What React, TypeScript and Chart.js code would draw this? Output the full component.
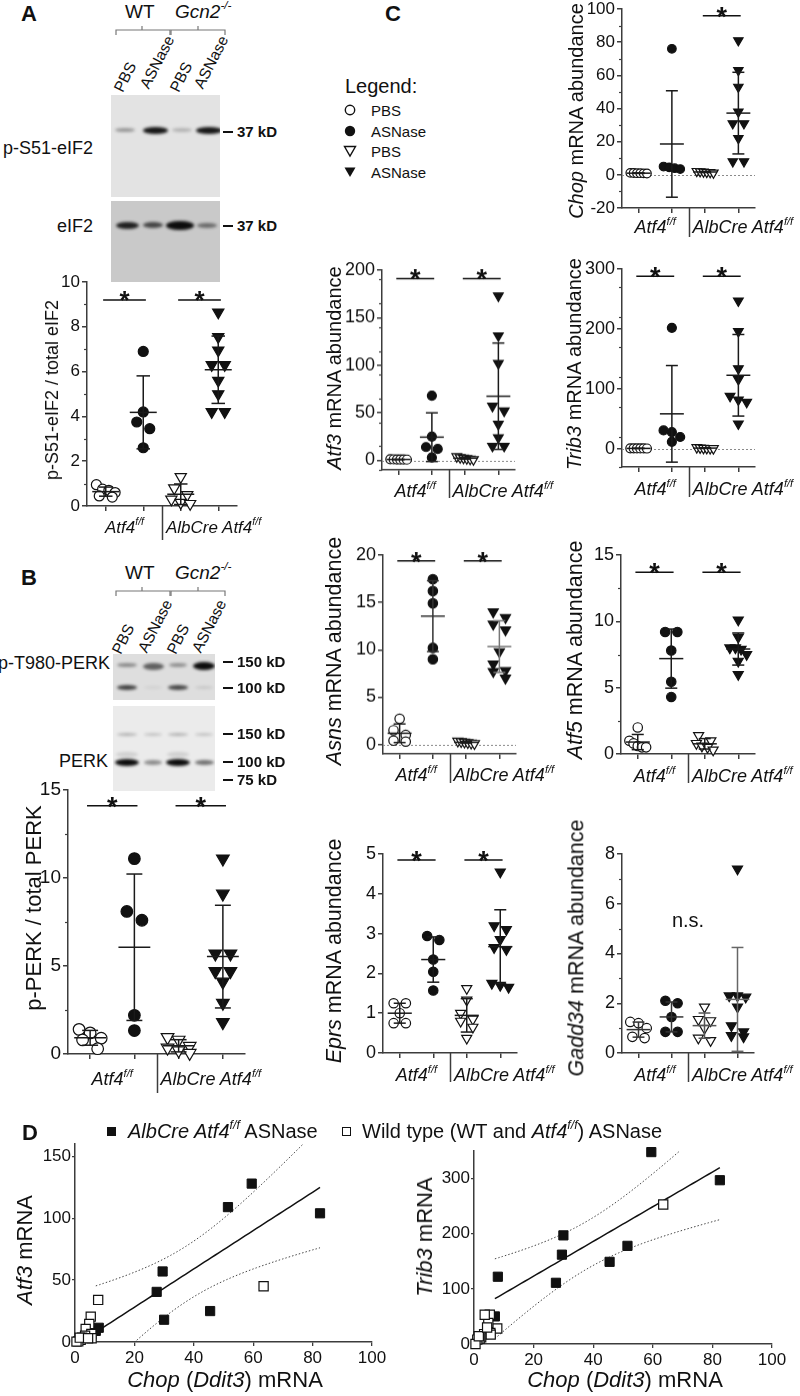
import React, { useEffect, useRef } from 'react';
import { Chart, registerables } from 'chart.js';

Chart.register(...registerables);

const FONT = '"Liberation Sans", Arial, Helvetica, sans-serif';
Chart.defaults.font.family = FONT;

const AX = '#3c3c3c';
const INK = '#111111';

/* ===================== DATA ===================== */
// every dot plot has 4 groups: Atf4 f/f PBS, Atf4 f/f ASNase, AlbCre Atf4 f/f PBS, AlbCre Atf4 f/f ASNase
const treatments = ['PBS', 'ASNase', 'PBS', 'ASNase'];

// A: p-S51-eIF2 / total eIF2
const eif2PbsFlox = [0.95, 0.75, 0.7, 0.6, 0.45, 0.4];
const eif2AsnFlox = [6.9, 4.2, 3.75, 3.45, 2.6];
const eif2PbsAlb = [1.3, 0.8, 0.5, 0.3, 0.15, 0.1];
const eif2AsnAlb = [8.65, 7.55, 6.95, 6.3, 6.3, 5.6, 5.0, 4.2, 4.2];

// B: p-PERK / total PERK
const perkPbsFlox = [1.4, 1.2, 0.9, 0.8, 0.3];
const perkAsnFlox = [11.1, 8.1, 7.6, 2.2, 1.33];
const perkPbsAlb = [0.95, 0.8, 0.45, 0.35, 0.2, 0.05];
const perkAsnAlb = [11.1, 9.1, 5.7, 5.7, 4.7, 4.7, 4.1, 2.9, 1.8];

// C: mRNA abundance
const chopPbsFlox = [1.2, 1.1, 1.0, 1.0, 0.9, 0.8];
const chopAsnFlox = [76, 5, 4.5, 4, 3.5];
const chopPbsAlb = [2.2, 2.0, 1.8, 1.6, 1.5, 1.2];
const chopAsnAlb = [81, 63, 53, 38, 31, 31, 22, 8, 8];

const atf3PbsFlox = [1.3, 1.1, 1.0, 0.9, 0.9, 0.8];
const atf3AsnFlox = [68, 25, 14, 12, 3];
const atf3PbsAlb = [4, 3, 2.5, 2, 1.5, 1];
const atf3AsnAlb = [173, 131, 102, 57, 52, 38, 24, 15, 15];

const trib3PbsFlox = [1.2, 1.1, 1.0, 1.0, 0.9, 0.8];
const trib3AsnFlox = [202, 31, 28, 20, 12];
const trib3PbsAlb = [2.5, 2, 1.5, 1.2, 1, 0.8];
const trib3AsnAlb = [247, 196, 134, 116, 88, 82, 78, 42];

const asnsPbsFlox = [2.7, 1.5, 1.0, 0.4, 0.3];
const asnsAsnFlox = [17.45, 16.2, 14.9, 10.2, 9.0];
const asnsPbsAlb = [0.35, 0.3, 0.25, 0.2, 0.15, 0.1];
const asnsAsnAlb = [14.0, 13.4, 12.7, 12.1, 9.8, 8.5, 7.8, 7.7, 7.0];

const atf5PbsFlox = [2.0, 1.0, 0.8, 0.6, 0.5, 0.5];
const atf5AsnFlox = [9.2, 9.2, 7.8, 5.45, 4.3];
const atf5PbsAlb = [1.4, 1.0, 0.8, 0.6, 0.5, 0.3];
const atf5AsnAlb = [10.1, 8.8, 8.0, 8.0, 7.9, 7.5, 7.0, 6.0];

const eprsPbsFlox = [1.25, 1.25, 1.0, 0.75, 0.75];
const eprsAsnFlox = [2.94, 2.84, 2.35, 2.04, 1.57];
const eprsPbsAlb = [1.62, 1.33, 1.0, 0.85, 0.8, 0.65, 0.37];
const eprsAsnAlb = [4.55, 3.2, 3.1, 2.85, 2.65, 2.6, 1.75, 1.7, 1.65];

const gaddPbsFlox = [1.25, 1.2, 1.0, 0.65, 0.6];
const gaddAsnFlox = [2.1, 2.0, 1.45, 0.85, 0.85];
const gaddPbsAlb = [1.85, 1.35, 1.3, 1.0, 0.6, 0.5];
const gaddAsnAlb = [7.4, 2.3, 2.3, 2.25, 1.85, 1.1, 0.85, 0.7, 0.65];

// D: correlations (ASNase treated)
const chopAlbAsn = [59.5, 51.5, 82.5, 29.5, 27.5, 45.5, 30, 8, 7];
const atf3AlbAsn = [128, 109, 104, 57, 40.5, 25, 18, 11.5, 9];
const trib3AlbAsn = [348, 178, 297, 162, 111, 149, 197, 122, 50];
const chopWtAsn = [63.5, 7.8, 5.3, 4.8, 3.6, 5.5, 3.4, 5.6, 2.4, 1.9, 1.1, 0.5, 1.6, 4.4];
const atf3WtAsn = [45, 34, 20.5, 14.5, 10.5, 6.5, 5, 3, 3.5, 1.7, 0.5, 0.3, 3.5, 3];
const trib3WtAsn = [253, 28, 53, 38, 53, 20, 18, 17, 12, 10, 8, 0, 14, 30];

const dTicksX = [0, 20, 40, 60, 80, 100];
const dTicksAtf3 = [0, 50, 100, 150];
const dTicksTrib3 = [0, 100, 200, 300];

/* ===================== helpers ===================== */
const mean = (a: number[]) => a.reduce((s, v) => s + v, 0) / a.length;
const sdev = (a: number[]) => {
  const m = mean(a);
  return Math.sqrt(a.reduce((s, v) => s + (v - m) ** 2, 0) / (a.length - 1));
};

function swarm(vals: number[], pxPerY: number, diam: number, unitPx: number): number[] {
  const idx = vals.map((_, i) => i).sort((a, b) => vals[b] - vals[a]);
  const offs = new Array(vals.length).fill(0);
  let i = 0;
  while (i < idx.length) {
    const row = [idx[i]];
    let j = i + 1;
    while (j < idx.length && (vals[idx[i]] - vals[idx[j]]) * pxPerY < diam * 0.8) {
      row.push(idx[j]);
      j++;
    }
    const n = row.length;
    if (n > 1) {
      const d = Math.min(diam * 1.3, (0.5 * unitPx) / (n - 1));
      row.forEach((k, m) => {
        offs[k] = (m - (n - 1) / 2) * d;
      });
    }
    i = j;
  }
  return offs.map((o) => o / unitPx);
}

function tCrit95(df: number): number {
  const table = [12.706, 4.303, 3.182, 2.776, 2.571, 2.447, 2.365, 2.306, 2.262, 2.228, 2.201, 2.179, 2.16, 2.145, 2.131];
  return df <= table.length ? table[df - 1] : 1.96 + 2.5 / df;
}

function regression(xs: number[], ys: number[]) {
  const n = xs.length;
  const mx = mean(xs);
  const my = mean(ys);
  let sxx = 0;
  let sxy = 0;
  xs.forEach((x, i) => {
    sxx += (x - mx) ** 2;
    sxy += (x - mx) * (ys[i] - my);
  });
  const slope = sxy / sxx;
  const icpt = my - slope * mx;
  const sse = xs.reduce((s, x, i) => s + (ys[i] - icpt - slope * x) ** 2, 0);
  const se = Math.sqrt(sse / (n - 2));
  const t = tCrit95(n - 2);
  const lo = Math.min(...xs);
  const hi = Math.max(...xs);
  const line: any[] = [];
  const upper: any[] = [];
  const lower: any[] = [];
  const steps = 60;
  for (let k = 0; k <= steps; k++) {
    const x = lo + ((hi - lo) * k) / steps;
    const yh = icpt + slope * x;
    const h = t * se * Math.sqrt(1 / n + (x - mx) ** 2 / sxx);
    line.push({ x, y: yh });
    upper.push({ x, y: yh + h });
    lower.push({ x, y: yh - h });
  }
  return { line, upper, lower };
}

/* ===================== text helpers ===================== */
const Sup = ({ children }: any) => (
  <span style={{ fontSize: '0.62em', position: 'relative', top: '-0.72em' }}>{children}</span>
);

const Txt = ({ x, y, size, children, align = 'left', bold = false, italic = false }: any) => (
  <div
    style={{
      position: 'absolute',
      left: x,
      top: y - 0.847 * size,
      fontSize: size,
      lineHeight: 1,
      fontFamily: FONT,
      fontWeight: bold ? 700 : 400,
      fontStyle: italic ? 'italic' : 'normal',
      whiteSpace: 'nowrap',
      color: INK,
      transform: align === 'center' ? 'translateX(-50%)' : align === 'right' ? 'translateX(-100%)' : undefined,
    }}
  >
    {children}
  </div>
);

const RTxt = ({ x, y, size, children, angle = -90 }: any) => (
  <div
    style={{
      position: 'absolute',
      left: x,
      top: y,
      fontSize: size,
      lineHeight: 1,
      fontFamily: FONT,
      whiteSpace: 'nowrap',
      color: INK,
      transform: `translate(-50%, -50%) rotate(${angle}deg)`,
    }}
  >
    {children}
  </div>
);

const Flox = () => (
  <i>
    Atf4<Sup>f/f</Sup>
  </i>
);
const AlbFlox = () => (
  <i>
    AlbCre Atf4<Sup>f/f</Sup>
  </i>
);

/* ===================== dot plot ===================== */
const YW = 50;
const PT = 16;
const PR = 12;

function decor(spec: any) {
  return {
    id: 'decor',
    beforeDatasetsDraw(chart: any) {
      if (!spec.zeroLine) return;
      const { ctx, chartArea: a, scales } = chart;
      const py = Math.round(scales.y.getPixelForValue(0)) + 0.5;
      ctx.save();
      ctx.strokeStyle = '#8a8a8a';
      ctx.lineWidth = 1;
      ctx.setLineDash([2, 2]);
      ctx.beginPath();
      ctx.moveTo(a.left, py);
      ctx.lineTo(a.right, py);
      ctx.stroke();
      ctx.restore();
    },
    afterDatasetsDraw(chart: any) {
      const { ctx, chartArea: a, scales } = chart;
      const x = scales.x;
      const y = scales.y;
      ctx.save();
      ctx.lineWidth = 1.5;
      const seg = (x1: number, y1: number, x2: number, y2: number) => {
        ctx.beginPath();
        ctx.moveTo(x.getPixelForValue(x1), y.getPixelForValue(y1));
        ctx.lineTo(x.getPixelForValue(x2), y.getPixelForValue(y2));
        ctx.stroke();
      };
      spec.groups.forEach((vals: number[], gi: number) => {
        const m = mean(vals);
        const s = sdev(vals);
        const c = gi + 1;
        ctx.strokeStyle = (spec.errColors && spec.errColors[gi]) || '#1a1a1a';
        seg(c - 0.36, m, c + 0.36, m);
        seg(c, m - s, c, m + s);
        seg(c - 0.18, m + s, c + 0.18, m + s);
        seg(c - 0.18, m - s, c + 0.18, m - s);
      });
      // significance bars
      ctx.strokeStyle = INK;
      ctx.fillStyle = INK;
      spec.sig.forEach((sg: any) => {
        seg(sg.from - 0.07, sg.y, sg.to + 0.07, sg.y);
        const cx = x.getPixelForValue((sg.from + sg.to) / 2);
        const py = y.getPixelForValue(sg.y);
        ctx.font = `bold ${spec.starSize}px ${FONT}`;
        ctx.textAlign = 'center';
        ctx.textBaseline = 'alphabetic';
        ctx.fillText('*', cx, py - 2 + 0.44 * spec.starSize);
      });
      if (spec.ns) {
        ctx.font = `20px ${FONT}`;
        ctx.textAlign = 'center';
        ctx.textBaseline = 'alphabetic';
        ctx.fillText('n.s.', x.getPixelForValue(spec.ns.x), y.getPixelForValue(spec.ns.y));
      }
      // group separator below the axis
      ctx.strokeStyle = AX;
      const sx = Math.round(x.getPixelForValue(2.5)) + 0.5;
      ctx.beginPath();
      ctx.moveTo(sx, a.bottom);
      ctx.lineTo(sx, a.bottom + spec.sepLen);
      ctx.stroke();
      // minor ticks
      if (spec.minorStep) {
        ctx.lineWidth = 1.2;
        for (let v = spec.yMin; v <= spec.yMax + 1e-9; v += spec.minorStep) {
          if (spec.majors.some((mj: number) => Math.abs(mj - v) < 1e-9)) continue;
          const py = Math.round(y.getPixelForValue(v)) + 0.5;
          ctx.beginPath();
          ctx.moveTo(a.left - 3, py);
          ctx.lineTo(a.left, py);
          ctx.stroke();
        }
      }
      ctx.restore();
    },
  };
}

function DotChart({ spec }: any) {
  const ref = useRef<HTMLCanvasElement>(null);
  const XH = spec.sepLen + 4;
  const areaW = spec.rightPx - spec.axisX;
  const areaH = spec.botPx - spec.topPx;
  const W = YW + areaW + PR;
  const H = PT + areaH + XH;
  useEffect(() => {
    const unitPx = areaW / 4;
    const pxPerY = areaH / (spec.yMax - spec.yMin);
    const datasets = spec.groups.map((vals: number[], gi: number) => {
      const tri = gi >= 2;
      const filled = gi % 2 === 1;
      const r = tri ? spec.triR : spec.circR;
      const offs = swarm(vals, pxPerY, 2 * spec.circR, unitPx);
      return {
        label: treatments[gi],
        data: vals.map((v, i) => ({ x: gi + 1 + offs[i], y: v })),
        showLine: false,
        clip: false,
        pointStyle: tri ? 'triangle' : 'circle',
        pointRotation: tri ? 180 : 0,
        pointRadius: r,
        pointHoverRadius: r,
        pointBackgroundColor: filled ? INK : '#ffffff',
        pointBorderColor: INK,
        pointBorderWidth: 1.2,
      };
    });
    const chart = new Chart(ref.current as HTMLCanvasElement, {
      type: 'scatter',
      data: { datasets },
      options: {
        animation: false,
        responsive: false,
        events: [],
        layout: { padding: { left: 0, top: PT, right: PR, bottom: 0 } },
        plugins: { legend: { display: false }, tooltip: { enabled: false } },
        scales: {
          x: {
            type: 'linear',
            min: 0.5,
            max: 4.5,
            afterBuildTicks: (s: any) => {
              s.ticks = [1, 2, 3, 4].map((v) => ({ value: v }));
            },
            afterFit: (s: any) => {
              s.height = XH;
            },
            ticks: { display: false },
            grid: { display: true, drawOnChartArea: false, drawTicks: true, tickLength: 5, color: AX, lineWidth: 1.5 },
            border: { display: true, color: AX, width: 1.5 },
          },
          y: {
            type: 'linear',
            min: spec.yMin,
            max: spec.yMax,
            afterBuildTicks: (s: any) => {
              s.ticks = spec.majors.map((v: number) => ({ value: v }));
            },
            afterFit: (s: any) => {
              s.width = YW;
            },
            ticks: { color: INK, font: { size: spec.tickSize, family: FONT }, padding: 2, callback: (v: any) => String(v) },
            grid: { display: true, drawOnChartArea: false, drawTicks: true, tickLength: 5, color: AX, lineWidth: 1.5 },
            border: { display: true, color: AX, width: 1.5 },
          },
        },
      } as any,
      plugins: [decor(spec)],
    } as any);
    return () => chart.destroy();
  }, []);
  return (
    <canvas
      ref={ref}
      width={W}
      height={H}
      style={{ position: 'absolute', left: spec.axisX - YW, top: spec.topPx - PT, width: W, height: H }}
    />
  );
}

function DotLabels({ spec }: any) {
  const unitPx = (spec.rightPx - spec.axisX) / 4;
  const by = spec.botPx + spec.labelDy;
  return (
    <>
      <Txt x={spec.axisX + unitPx} y={by} size={spec.labelSize} align="center">
        <Flox />
      </Txt>
      <Txt x={spec.axisX + 2 * unitPx + 4} y={by} size={spec.labelSize}>
        <AlbFlox />
      </Txt>
      <RTxt x={spec.titleX} y={spec.titleY} size={spec.titleSize}>
        {spec.title}
      </RTxt>
    </>
  );
}

const DOT_SPECS: any[] = [
  {
    key: 'A', axisX: 87, topPx: 282, botPx: 506, rightPx: 237, yMin: 0, yMax: 10, majors: [0, 2, 4, 6, 8, 10], minorStep: 1,
    groups: [eif2PbsFlox, eif2AsnFlox, eif2PbsAlb, eif2AsnAlb],
    sig: [{ from: 1, to: 2, y: 9.2 }, { from: 3, to: 4, y: 9.2 }],
    tickSize: 17, circR: 5, triR: 6.5, starSize: 26, sepLen: 34, labelDy: 27, labelSize: 17,
    title: <>p-S51-eIF2 / total eIF2</>, titleX: 52, titleY: 390, titleSize: 18,
  },
  {
    key: 'B', axisX: 68, topPx: 790, botPx: 1054, rightPx: 245, yMin: 0, yMax: 15, majors: [0, 5, 10, 15], minorStep: 2.5,
    groups: [perkPbsFlox, perkAsnFlox, perkPbsAlb, perkAsnAlb],
    sig: [{ from: 1, to: 2, y: 14.1 }, { from: 3, to: 4, y: 14.1 }],
    tickSize: 19, circR: 5.8, triR: 7.3, starSize: 27, sepLen: 39, labelDy: 31, labelSize: 18,
    title: <>p-PERK / total PERK</>, titleX: 34, titleY: 908, titleSize: 22,
  },
  {
    key: 'Chop', axisX: 622, topPx: 9, botPx: 208, rightPx: 755, yMin: -20, yMax: 100, majors: [-20, 0, 20, 40, 60, 80, 100], minorStep: 10,
    groups: [chopPbsFlox, chopAsnFlox, chopPbsAlb, chopAsnAlb],
    sig: [{ from: 3, to: 4, y: 96 }], zeroLine: true,
    tickSize: 17, circR: 4.3, triR: 5.4, starSize: 27, sepLen: 29, labelDy: 25, labelSize: 18,
    title: <><i>Chop</i> mRNA abundance</>, titleX: 576, titleY: 111, titleSize: 20,
  },
  {
    key: 'Atf3', axisX: 382, topPx: 270, botPx: 469.5, rightPx: 515, yMin: -10, yMax: 200, majors: [0, 50, 100, 150, 200], minorStep: 25,
    groups: [atf3PbsFlox, atf3AsnFlox, atf3PbsAlb, atf3AsnAlb],
    sig: [{ from: 1, to: 2, y: 191 }, { from: 3, to: 4, y: 191 }], zeroLine: true,
    tickSize: 18, circR: 4.5, triR: 5.6, starSize: 27, sepLen: 28, labelDy: 28, labelSize: 18,
    title: <><i>Atf3</i> mRNA abundance</>, titleX: 334, titleY: 368, titleSize: 20,
  },
  {
    key: 'Trib3', axisX: 622, topPx: 269, botPx: 467, rightPx: 755, yMin: -30, yMax: 300, majors: [0, 100, 200, 300], minorStep: 50,
    groups: [trib3PbsFlox, trib3AsnFlox, trib3PbsAlb, trib3AsnAlb],
    sig: [{ from: 1, to: 2, y: 288 }, { from: 3, to: 4, y: 288 }], zeroLine: true,
    tickSize: 18, circR: 4.5, triR: 5.6, starSize: 27, sepLen: 30, labelDy: 28, labelSize: 18,
    title: <><i>Trib3</i> mRNA abundance</>, titleX: 574, titleY: 364, titleSize: 20,
  },
  {
    key: 'Asns', axisX: 383, topPx: 555, botPx: 753.5, rightPx: 516, yMin: -1, yMax: 20, majors: [0, 5, 10, 15, 20],
    groups: [asnsPbsFlox, asnsAsnFlox, asnsPbsAlb, asnsAsnAlb],
    sig: [{ from: 1, to: 2, y: 19.4 }, { from: 3, to: 4, y: 19.4 }], zeroLine: true,
    errColors: ['#1a1a1a', '#333', '#1a1a1a', '#777'],
    tickSize: 18, circR: 4.7, triR: 5.8, starSize: 27, sepLen: 29, labelDy: 28, labelSize: 18,
    title: <><i>Asns</i> mRNA abundance</>, titleX: 335, titleY: 651, titleSize: 21.5,
  },
  {
    key: 'Atf5', axisX: 621, topPx: 555, botPx: 754, rightPx: 755, yMin: 0, yMax: 15, majors: [0, 5, 10, 15], minorStep: 2.5,
    groups: [atf5PbsFlox, atf5AsnFlox, atf5PbsAlb, atf5AsnAlb],
    sig: [{ from: 1, to: 2, y: 13.7 }, { from: 3, to: 4, y: 13.7 }],
    tickSize: 18, circR: 4.7, triR: 5.8, starSize: 27, sepLen: 29, labelDy: 28, labelSize: 18,
    title: <><i>Atf5</i> mRNA abundance</>, titleX: 576, titleY: 650, titleSize: 21.5,
  },
  {
    key: 'Eprs', axisX: 383, topPx: 854, botPx: 1053, rightPx: 517, yMin: 0, yMax: 5, majors: [0, 1, 2, 3, 4, 5],
    groups: [eprsPbsFlox, eprsAsnFlox, eprsPbsAlb, eprsAsnAlb],
    sig: [{ from: 1, to: 2, y: 4.85 }, { from: 3, to: 4, y: 4.85 }],
    tickSize: 18, circR: 4.7, triR: 5.8, starSize: 27, sepLen: 29, labelDy: 28, labelSize: 18,
    title: <><i>Eprs</i> mRNA abundance</>, titleX: 335, titleY: 951, titleSize: 21.5,
  },
  {
    key: 'Gadd34', axisX: 622, topPx: 854, botPx: 1053, rightPx: 754, yMin: 0, yMax: 8, majors: [0, 2, 4, 6, 8], minorStep: 1,
    groups: [gaddPbsFlox, gaddAsnFlox, gaddPbsAlb, gaddAsnAlb],
    sig: [], ns: { x: 2.5, y: 5.05 },
    errColors: ['#333', '#333', '#555', '#666'],
    tickSize: 18, circR: 4.7, triR: 5.8, starSize: 27, sepLen: 29, labelDy: 28, labelSize: 18,
    title: <><i>Gadd34</i> mRNA abundance</>, titleX: 577, titleY: 948, titleSize: 21.5,
  },
];

/* ===================== regression plots (D) ===================== */
function RegChart({ spec }: any) {
  const ref = useRef<HTMLCanvasElement>(null);
  const XH = 30;
  const PRr = 22;
  const areaW = spec.rightPx - spec.axisX;
  const areaH = spec.botPx - spec.topPx;
  const W = YW + areaW + PRr;
  const H = PT + areaH + XH;
  useEffect(() => {
    const fit = regression(spec.albX, spec.albY);
    const lineDs = (pts: any[], dashed: boolean) => ({
      data: pts,
      showLine: true,
      pointRadius: 0,
      borderColor: dashed ? '#444' : INK,
      borderWidth: dashed ? 1 : 1.5,
      borderDash: dashed ? [1.5, 2] : [],
      fill: false,
      order: 3,
    });
    const chart = new Chart(ref.current as HTMLCanvasElement, {
      type: 'scatter',
      data: {
        datasets: [
          {
            label: 'Wild type (WT and Atf4f/f) ASNase',
            data: spec.wtX.map((x: number, i: number) => ({ x, y: spec.wtY[i] })),
            pointStyle: 'rect', pointRadius: 6.5, pointHoverRadius: 6.5,
            pointBackgroundColor: '#fff', pointBorderColor: INK, pointBorderWidth: 1.2,
            clip: false, order: 1,
          },
          {
            label: 'AlbCre Atf4f/f ASNase',
            data: spec.albX.map((x: number, i: number) => ({ x, y: spec.albY[i] })),
            pointStyle: 'rect', pointRadius: 6.5, pointHoverRadius: 6.5,
            pointBackgroundColor: INK, pointBorderColor: INK, pointBorderWidth: 1,
            clip: false, order: 2,
          },
          lineDs(fit.line, false),
          lineDs(fit.upper, true),
          lineDs(fit.lower, true),
        ],
      },
      options: {
        animation: false,
        responsive: false,
        events: [],
        layout: { padding: { left: 0, top: PT, right: PRr, bottom: 0 } },
        plugins: { legend: { display: false }, tooltip: { enabled: false } },
        scales: {
          x: {
            type: 'linear', min: 0, max: 100,
            afterBuildTicks: (s: any) => { s.ticks = dTicksX.map((v) => ({ value: v })); },
            afterFit: (s: any) => { s.height = XH; },
            ticks: { color: INK, font: { size: 17, family: FONT }, padding: 2, maxRotation: 0, callback: (v: any) => String(v) },
            grid: { display: true, drawOnChartArea: false, drawTicks: true, tickLength: 4, color: AX, lineWidth: 1.3 },
            border: { display: true, color: AX, width: 1.5 },
          },
          y: {
            type: 'linear', min: 0, max: spec.yMax,
            afterBuildTicks: (s: any) => { s.ticks = spec.yTicks.map((v: number) => ({ value: v })); },
            afterFit: (s: any) => { s.width = YW; },
            ticks: { color: INK, font: { size: 17, family: FONT }, padding: 1, callback: (v: any) => String(v) },
            grid: { display: true, drawOnChartArea: false, drawTicks: true, tickLength: 3, color: AX, lineWidth: 1.3 },
            border: { display: true, color: AX, width: 1.5 },
          },
        },
      } as any,
    } as any);
    return () => chart.destroy();
  }, []);
  return (
    <canvas
      ref={ref}
      width={W}
      height={H}
      style={{ position: 'absolute', left: spec.axisX - YW, top: spec.topPx - PT, width: W, height: H }}
    />
  );
}

const D_LEFT = {
  axisX: 75, topPx: 1342 - 160 * 1.2375, botPx: 1342, rightPx: 372, yMax: 160, yTicks: dTicksAtf3,
  albX: chopAlbAsn, albY: atf3AlbAsn, wtX: chopWtAsn, wtY: atf3WtAsn,
};
const D_RIGHT = {
  axisX: 474, topPx: 1344 - 350 * 0.5523, botPx: 1344, rightPx: 772, yMax: 350, yTicks: dTicksTrib3,
  albX: chopAlbAsn, albY: trib3AlbAsn, wtX: chopWtAsn, wtY: trib3WtAsn,
};

/* ===================== western blots ===================== */
const Blot = ({ x, y, w, h, bg, bands }: any) => (
  <div style={{ position: 'absolute', left: x, top: y, width: w, height: h, background: bg, overflow: 'hidden' }}>
    {bands.map((b: any, i: number) => (
      <div
        key={i}
        style={{
          position: 'absolute',
          left: b.cx - b.w / 2,
          top: b.cy - b.h / 2,
          width: b.w,
          height: b.h,
          borderRadius: '50%',
          background: `rgba(12,12,12,${b.a})`,
          filter: 'blur(1.5px)',
        }}
      />
    ))}
  </div>
);

const blotA1 = [
  { cx: 14, cy: 35, w: 20, h: 4, a: 0.35 },
  { cx: 44, cy: 35, w: 25, h: 7, a: 0.95 },
  { cx: 71, cy: 35, w: 20, h: 4, a: 0.22 },
  { cx: 98, cy: 35, w: 26, h: 7, a: 0.95 },
];
const blotA2 = [
  { cx: 16, cy: 24, w: 23, h: 7, a: 0.9 },
  { cx: 42, cy: 24, w: 20, h: 6, a: 0.7 },
  { cx: 69, cy: 24, w: 28, h: 9, a: 1 },
  { cx: 96, cy: 24, w: 20, h: 5, a: 0.5 },
];
const blotB1 = [
  { cx: 14, cy: 11, w: 20, h: 4, a: 0.4 },
  { cx: 40, cy: 12, w: 21, h: 7, a: 0.6 },
  { cx: 65, cy: 11, w: 18, h: 4, a: 0.38 },
  { cx: 91, cy: 12, w: 22, h: 8, a: 1 },
  { cx: 14, cy: 33, w: 20, h: 5, a: 0.75 },
  { cx: 40, cy: 33, w: 18, h: 3, a: 0.06 },
  { cx: 65, cy: 33, w: 20, h: 5, a: 0.72 },
  { cx: 91, cy: 33, w: 18, h: 3, a: 0.1 },
];
const blotB2 = [
  { cx: 14, cy: 28, w: 20, h: 3, a: 0.25 },
  { cx: 40, cy: 28, w: 18, h: 3, a: 0.18 },
  { cx: 65, cy: 28, w: 20, h: 3, a: 0.25 },
  { cx: 91, cy: 28, w: 18, h: 3, a: 0.18 },
  { cx: 14, cy: 48, w: 22, h: 5, a: 0.12 },
  { cx: 65, cy: 48, w: 22, h: 5, a: 0.12 },
  { cx: 14, cy: 56, w: 24, h: 7, a: 1 },
  { cx: 40, cy: 56, w: 18, h: 5, a: 0.42 },
  { cx: 65, cy: 56, w: 24, h: 7, a: 1 },
  { cx: 91, cy: 56, w: 19, h: 5, a: 0.55 },
];

const Dash = ({ x, y }: any) => (
  <div style={{ position: 'absolute', left: x, top: y - 1, width: 10, height: 2, background: INK }} />
);

const KD = ({ y, text }: any) => (
  <>
    <Dash x={223} y={y - 5} />
    <Txt x={237} y={y} size={15} bold>
      {text}
    </Txt>
  </>
);

const BlotHeader = ({ base }: any) => (
  <>
    <Txt x={125} y={base} size={19}>WT</Txt>
    <Txt x={175} y={base} size={19} italic>
      Gcn2<Sup>-/-</Sup>
    </Txt>
  </>
);

const LaneLabels = ({ pos }: any) => (
  <>
    {pos.map((p: any, i: number) => (
      <RTxt key={i} x={p[0]} y={p[1]} size={15.5} angle={-63}>
        {treatments[i]}
      </RTxt>
    ))}
  </>
);

const LegendMark = ({ kind, x, y }: any) => (
  <svg style={{ position: 'absolute', left: x - 7, top: y - 7 }} width={14} height={14}>
    {kind === 0 && <circle cx={7} cy={7} r={4.7} fill="#fff" stroke={INK} strokeWidth={1.4} />}
    {kind === 1 && <circle cx={7} cy={7} r={5.2} fill={INK} />}
    {kind === 2 && <polygon points="1.5,2.5 12.5,2.5 7,12" fill="#fff" stroke={INK} strokeWidth={1.4} />}
    {kind === 3 && <polygon points="1.5,2.5 12.5,2.5 7,12" fill={INK} />}
  </svg>
);

/* ===================== App ===================== */
export default function App() {
  return (
    <div
      style={{
        position: 'absolute',
        left: 0,
        top: 0,
        width: 800,
        height: 1396,
        background: '#ffffff',
        overflow: 'hidden',
        fontFamily: FONT,
        color: INK,
      }}
    >
      {/* ---------- panel A blots ---------- */}
      <Blot x={111} y={95} w={109} h={102} bg="#e3e3e3" bands={blotA1} />
      <Blot x={111} y={201} w={109} h={81} bg="#c9c9c9" bands={blotA2} />
      {/* ---------- panel B blots ---------- */}
      <Blot x={113} y={654} w={102} h={46} bg="#dedede" bands={blotB1} />
      <Blot x={113} y={706} w={102} h={85} bg="#ebebeb" bands={blotB2} />

      <svg style={{ position: 'absolute', left: 0, top: 0 }} width={800} height={1396}>
        <g fill="none" stroke="#777" strokeWidth={1.2}>
          <polyline points="116,35 116,30 170,30 170,35" />
          <polyline points="142,30 142,26" />
          <polyline points="171,35 171,30 225,30 225,35" />
          <polyline points="198,30 198,26" />
          <polyline points="116,596 116,591 170,591 170,596" />
          <polyline points="142,591 142,587" />
          <polyline points="171,596 171,591 225,591 225,596" />
          <polyline points="198,591 198,587" />
        </g>
      </svg>

      {DOT_SPECS.map((s) => (
        <DotChart key={s.key} spec={s} />
      ))}
      <RegChart spec={D_LEFT} />
      <RegChart spec={D_RIGHT} />

      {/* ---------- panel letters ---------- */}
      <Txt x={21} y={22} size={22} bold>A</Txt>
      <Txt x={21} y={586} size={22} bold>B</Txt>
      <Txt x={385} y={22} size={22} bold>C</Txt>
      <Txt x={22} y={1141} size={22} bold>D</Txt>

      {/* ---------- panel A blot labels ---------- */}
      <BlotHeader base={18} />
      <LaneLabels pos={[[125, 77], [157, 62], [181, 77], [211, 62]]} />
      <Txt x={93} y={154} size={18} align="right">p-S51-eIF2</Txt>
      <Txt x={93} y={232} size={18} align="right">eIF2</Txt>
      <KD y={137} text="37 kD" />
      <KD y={231} text="37 kD" />

      {/* ---------- panel B blot labels ---------- */}
      <BlotHeader base={579} />
      <LaneLabels pos={[[123, 639], [155, 626], [178, 639], [209, 626]]} />
      <Txt x={110} y={669} size={18} align="right">p-T980-PERK</Txt>
      <Txt x={108} y={767} size={18} align="right">PERK</Txt>
      <KD y={667} text="150 kD" />
      <KD y={693} text="100 kD" />
      <KD y={739} text="150 kD" />
      <KD y={767} text="100 kD" />
      <KD y={785} text="75 kD" />

      {/* ---------- dot plot labels ---------- */}
      {DOT_SPECS.map((s) => (
        <DotLabels key={'l' + s.key} spec={s} />
      ))}

      {/* ---------- C legend ---------- */}
      <Txt x={345} y={93} size={20}>Legend:</Txt>
      {[110, 131, 151, 172].map((cy, i) => (
        <React.Fragment key={i}>
          <LegendMark kind={i} x={350} y={cy} />
          <Txt x={371} y={cy + 5.5} size={15}>
            {treatments[i]}
          </Txt>
        </React.Fragment>
      ))}

      {/* ---------- D legend & titles ---------- */}
      <div style={{ position: 'absolute', left: 107, top: 1127, width: 9, height: 9, background: INK }} />
      <Txt x={128} y={1138} size={20}>
        <AlbFlox /> ASNase
      </Txt>
      <div style={{ position: 'absolute', left: 342, top: 1127, width: 9, height: 9, border: `1.3px solid ${INK}`, boxSizing: 'border-box', background: '#fff' }} />
      <Txt x={362} y={1138} size={20}>
        Wild type (WT and <Flox />) ASNase
      </Txt>
      <RTxt x={25} y={1250} size={22}>
        <i>Atf3</i> mRNA
      </RTxt>
      <RTxt x={425} y={1237} size={22}>
        <i>Trib3</i> mRNA
      </RTxt>
      <Txt x={225} y={1388} size={22} align="center">
        <i>Chop</i> (<i>Ddit3</i>) mRNA
      </Txt>
      <Txt x={625} y={1388} size={22} align="center">
        <i>Chop</i> (<i>Ddit3</i>) mRNA
      </Txt>
    </div>
  );
}
